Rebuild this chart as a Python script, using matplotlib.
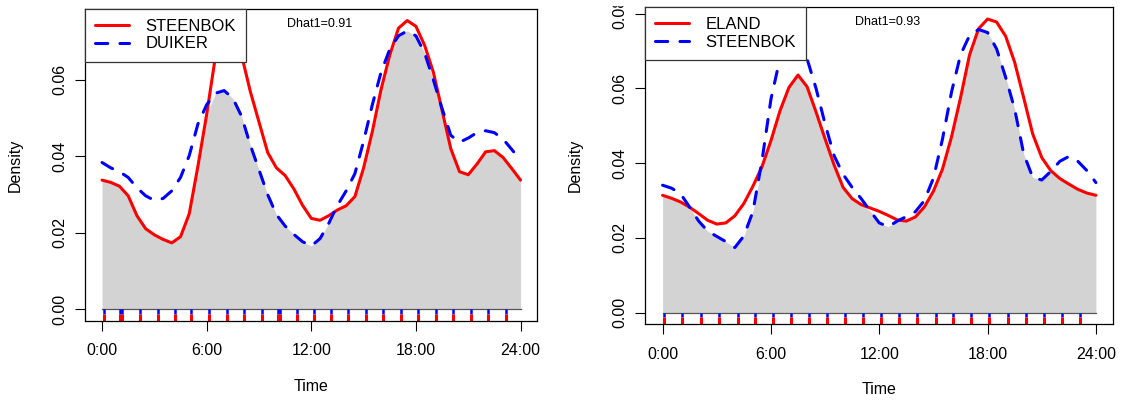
import numpy as np
import matplotlib
matplotlib.use("Agg")
import matplotlib.pyplot as plt
from matplotlib.patches import Rectangle

plt.rcParams['font.family'] = ['Liberation Sans', 'DejaVu Sans']

# common time grid (hours), every half hour
hours = np.arange(0, 24.5, 0.5)

# left panel: STEENBOK vs DUIKER
steenbok_l = [0.0338, 0.0332, 0.0322, 0.0297, 0.0245, 0.0211, 0.0195, 0.0183, 0.0174, 0.0190,
              0.0250, 0.0375, 0.0510, 0.0660, 0.0715, 0.0712, 0.0665, 0.0570, 0.0490, 0.0410,
              0.0370, 0.0350, 0.0315, 0.0272, 0.0238, 0.0233, 0.0245, 0.0260, 0.0271, 0.0295,
              0.0370, 0.0465, 0.0575, 0.0665, 0.0735, 0.0755, 0.0740, 0.0690, 0.0620, 0.0520,
              0.0420, 0.0360, 0.0352, 0.0380, 0.0412, 0.0415, 0.0397, 0.0368, 0.0338]
duiker_l = [0.0384, 0.0370, 0.0360, 0.0345, 0.0318, 0.0297, 0.0285, 0.0290, 0.0310, 0.0345,
            0.0402, 0.0485, 0.0535, 0.0565, 0.0572, 0.0552, 0.0505, 0.0430, 0.0365, 0.0300,
            0.0248, 0.0218, 0.0196, 0.0177, 0.0166, 0.0185, 0.0225, 0.0272, 0.0310, 0.0355,
            0.0440, 0.0535, 0.0620, 0.0680, 0.0715, 0.0728, 0.0715, 0.0670, 0.0600, 0.0525,
            0.0455, 0.0437, 0.0448, 0.0462, 0.0467, 0.0462, 0.0445, 0.0418, 0.0389]

# right panel: ELAND vs STEENBOK
eland_r = [0.0314, 0.0306, 0.0296, 0.0282, 0.0265, 0.0247, 0.0237, 0.0240, 0.0259, 0.0292,
           0.0338, 0.0390, 0.0460, 0.0540, 0.0603, 0.0636, 0.0605, 0.0537, 0.0465, 0.0395,
           0.0335, 0.0305, 0.0289, 0.0280, 0.0271, 0.0260, 0.0248, 0.0245, 0.0256, 0.0283,
           0.0325, 0.0384, 0.0470, 0.0575, 0.0690, 0.0760, 0.0786, 0.0778, 0.0740, 0.0670,
           0.0575, 0.0478, 0.0415, 0.0380, 0.0359, 0.0344, 0.0330, 0.0320, 0.0314]
steenbok_r = [0.0341, 0.0333, 0.0318, 0.0282, 0.0245, 0.0218, 0.0204, 0.0190, 0.0174, 0.0205,
              0.0270, 0.0405, 0.0571, 0.0680, 0.0720, 0.0725, 0.0680, 0.0600, 0.0505, 0.0420,
              0.0370, 0.0335, 0.0305, 0.0272, 0.0240, 0.0230, 0.0245, 0.0257, 0.0270, 0.0300,
              0.0360, 0.0464, 0.0590, 0.0690, 0.0742, 0.0758, 0.0750, 0.0706, 0.0630, 0.0545,
              0.0425, 0.0362, 0.0355, 0.0378, 0.0405, 0.0418, 0.0405, 0.0380, 0.0348]

# rug positions (hours)
rug_l = [0.13, 1.05, 1.15, 2.16, 3.19, 4.2, 5.11, 6.15, 7.16, 8.15, 9.16, 10.1, 10.2, 11.2,
         12.16, 13.13, 14.12, 15.12, 16.13, 17.14, 18.13, 19.15, 20.14, 21.15, 22.14, 23.16]
rug_r = [0.07, 1.09, 2.12, 3.13, 4.15, 5.11, 6.12, 7.13, 8.11, 9.12, 10.12, 11.1, 12.11, 13.09,
         14.1, 15.12, 16.11, 17.1, 18.1, 19.12, 20.1, 21.13, 22.12, 23.14]

xticks = [0, 6, 12, 18, 24]
xticklabels = ['0:00', '6:00', '12:00', '18:00', '24:00']


def overlap_panel(ax, a, b, names, dhat, rug, yticks):
    a = np.array(a)
    b = np.array(b)
    top = max(a.max(), b.max())
    ax.set_xlim(-0.96, 24.96)
    ax.set_ylim(-0.04 * top, 1.04 * top)

    ax.fill_between(hours, 0, np.minimum(a, b), color='#d3d3d3', lw=0, zorder=1)
    ax.plot([0, 24], [0, 0], color='#555555', lw=0.9, zorder=2)
    ax.plot(hours, a, color='red', lw=2.2, solid_capstyle='round', solid_joinstyle='round',
            zorder=3, label=names[0])
    ax.plot(hours, b, color='blue', lw=2.2, dashes=(4, 4), dash_capstyle='round',
            dash_joinstyle='round', zorder=3, label=names[1])

    ax.vlines(rug, -0.0013, 0, color='blue', lw=1.8, zorder=2)
    ax.vlines(rug, -0.04 * top, -0.0013, color='red', lw=2.2, zorder=2)

    ax.text(12.45, top - 0.0008, dhat, ha='center', va='center', fontsize=9)

    ax.set_xticks(xticks)
    ax.set_xticklabels(xticklabels)
    ax.set_yticks(yticks)
    ax.set_yticklabels(['%.2f' % t for t in yticks], rotation=90, va='center')
    ax.tick_params(length=7, width=0.8, labelsize=11.5, pad=6)
    ax.tick_params(axis='x', pad=9)
    for s in ax.spines.values():
        s.set_linewidth(0.9)
    ax.set_xlabel('Time', fontsize=11.5, labelpad=15)
    ax.set_ylabel('Density', fontsize=11.5, labelpad=21)

    leg = ax.legend(loc='upper left', fontsize=12, frameon=True, fancybox=False,
                    framealpha=1, edgecolor='#333333', borderaxespad=0,
                    handlelength=2.0, handletextpad=1.0, borderpad=0.6,
                    labelspacing=0.15)
    leg.get_frame().set_linewidth(0.9)
    leg.set_zorder(5)


fig = plt.figure(figsize=(11.21, 4.0), dpi=100)
ax1 = fig.add_axes([0.0761, 0.1975, 0.4032, 0.78])
ax2 = fig.add_axes([0.5756, 0.18925, 0.4175, 0.7925])

overlap_panel(ax1, steenbok_l, duiker_l, ['STEENBOK', 'DUIKER'], 'Dhat1=0.91', rug_l,
              [0.0, 0.02, 0.04, 0.06])
overlap_panel(ax2, eland_r, steenbok_r, ['ELAND', 'STEENBOK'], 'Dhat1=0.93', rug_r,
              [0.0, 0.02, 0.04, 0.06, 0.08])

# the original image is cropped a few pixels at the top
fig.patches.append(Rectangle((0, 1 - 5 / 400), 1, 5 / 400, transform=fig.transFigure,
                             color='white', zorder=10))

fig.savefig('out.png', dpi=100)
